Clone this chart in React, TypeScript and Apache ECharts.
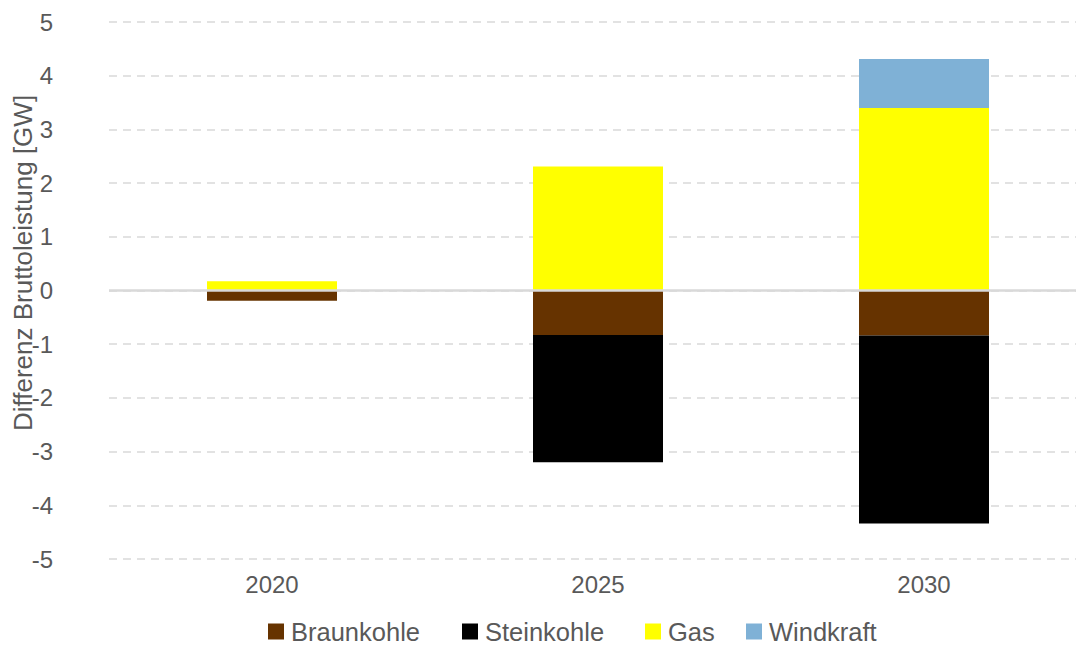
import React, { useEffect, useRef } from "react";
import * as echarts from "echarts";

const categories = ["2020", "2025", "2030"];
const braunkohle = [-0.19, -0.83, -0.84];
const steinkohle = [0, -2.37, -3.5];
const gas = [0.17, 2.31, 3.4];
const windkraft = [0, 0, 0.91];
const seriesNames = ["Braunkohle", "Steinkohle", "Gas", "Windkraft"];
const yAxisName = "Differenz Bruttoleistung [GW]";

const FONT = "'Liberation Sans', Arial, sans-serif";
const TEXT = "#595959";

export default function App() {
  const ref = useRef<HTMLDivElement>(null);
  useEffect(() => {
    if (!ref.current) return;
    const chart = echarts.init(ref.current, undefined, { renderer: "svg" });
    const mk = (name: string, data: number[], color: string, extra: any = {}) => ({
      name,
      type: "bar",
      stack: "total",
      data,
      barWidth: 130,
      itemStyle: { color },
      emphasis: { disabled: true },
      ...extra,
    });
    const legendLefts = [268, 462, 645, 746];
    chart.setOption({
      animation: false,
      textStyle: { fontFamily: FONT },
      grid: { left: 109, top: 22, width: 978, bottom: 88, containLabel: false },
      legend: seriesNames.map((n, i) => ({
        left: legendLefts[i],
        top: 618,
        padding: 0,
        itemWidth: 16,
        itemHeight: 16,
        icon: "rect",
        textStyle: {
          color: TEXT,
          fontSize: 25.5,
          lineHeight: 27,
          fontFamily: FONT,
          padding: [0, 0, 0, 2],
        },
        data: [n],
      })),
      xAxis: {
        type: "category",
        data: categories,
        axisLine: { show: false, onZero: false },
        axisTick: { show: false },
        axisLabel: { color: TEXT, fontSize: 24, margin: 13, fontFamily: FONT },
        splitLine: { show: false },
      },
      yAxis: {
        type: "value",
        min: -5,
        max: 5,
        interval: 1,
        axisLine: { show: false },
        axisTick: { show: false },
        axisLabel: { color: TEXT, fontSize: 24, margin: 56, fontFamily: FONT },
        splitLine: { lineStyle: { color: "#d9d9d9", width: 1.5, type: [8, 6] } },
      },
      graphic: [
        {
          type: "text",
          x: 23,
          y: 263,
          rotation: Math.PI / 2,
          style: {
            text: yAxisName,
            fill: TEXT,
            fontSize: 26,
            fontFamily: FONT,
            textAlign: "center",
            textVerticalAlign: "middle",
          },
        },
      ],
      series: [
        mk("Braunkohle", braunkohle, "#663300", {
          markLine: {
            silent: true,
            symbol: "none",
            label: { show: false },
            lineStyle: { color: "#d9d9d9", width: 2.5, type: "solid" },
            data: [{ yAxis: 0 }],
            z: 10,
          },
        }),
        mk("Steinkohle", steinkohle, "#000000"),
        mk("Gas", gas, "#FFFF00"),
        mk("Windkraft", windkraft, "#7FB1D6"),
      ],
    });
    return () => chart.dispose();
  }, []);
  return (
    <div style={{ position: "absolute", left: 0, top: 0, width: 1076, height: 647, background: "#fff", overflow: "hidden" }}>
      <div ref={ref} style={{ width: 1100, height: 647 }} />
    </div>
  );
}
